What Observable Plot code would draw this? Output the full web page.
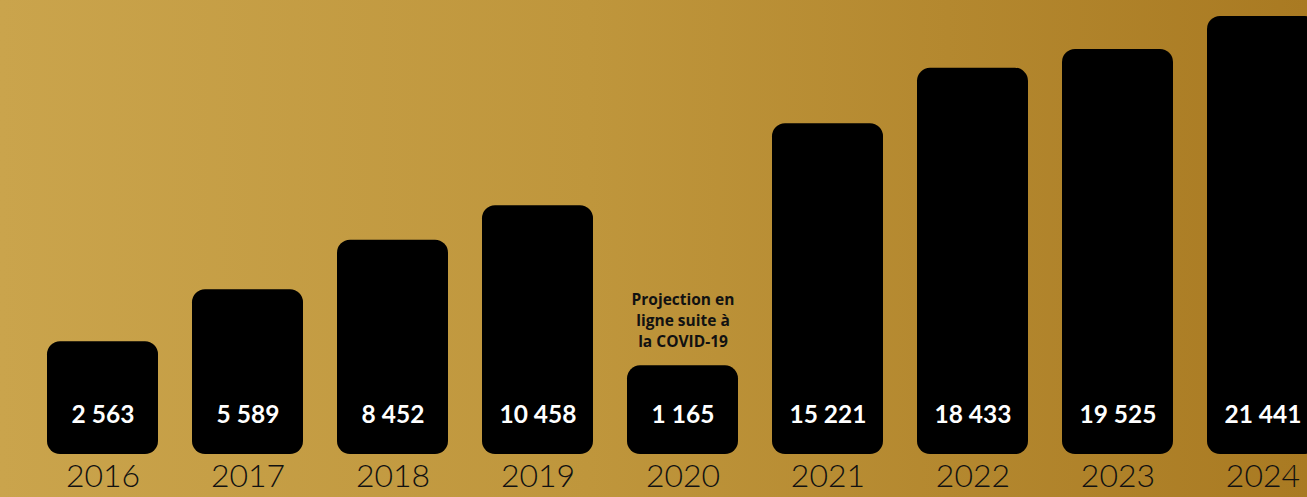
<!DOCTYPE html>
<html>
<head>
<meta charset="utf-8">
<script src="https://cdn.jsdelivr.net/npm/d3@7"></script>
<script src="https://cdn.jsdelivr.net/npm/@observablehq/plot@0.6"></script>
<style>
  html, body { margin: 0; padding: 0; background: #b88f36; overflow: hidden; }
  svg { display: block; }
</style>
</head>
<body>
<div id="chart"></div>
<script>
const years = ["2016", "2017", "2018", "2019", "2020", "2021", "2022", "2023", "2024"];
const values = [2563, 5589, 8452, 10458, 1165, 15221, 18433, 19525, 21441];
const valueLabels = ["2 563", "5 589", "8 452", "10 458", "1 165", "15 221", "18 433", "19 525", "21 441"];
const noteYear = "2020";
const noteText = "Projection en\nligne suite à\nla COVID-19";
const yFloor = -3980;

const data = years.map((year, i) => ({year, value: values[i], label: valueLabels[i]}));
const note = data.filter(d => d.year === noteYear).map(d => ({...d, text: noteText}));

const chart = Plot.plot({
  width: 1307,
  height: 497,
  marginTop: 16,
  marginBottom: 43,
  marginLeft: 0,
  marginRight: 0,
  style: {
    background: "linear-gradient(90deg, #caa44c 0%, #bf963c 45%, #a97a22 100%)",
    fontFamily: "Lato, 'Open Sans', sans-serif",
    overflow: "hidden"
  },
  x: {type: "band", domain: years, padding: 0.2345, range: [13, 1352], round: false},
  y: {domain: [yFloor, d3.max(values)], axis: null},
  marks: [
    Plot.barY(data, {x: "year", y1: () => yFloor, y2: "value", fill: "black", rx: 13}),
    Plot.text(data, {x: "year", y: () => yFloor, dy: -39, text: "label", fill: "white",
      fontSize: 24.5, fontWeight: "bold"}),
    Plot.text(note, {x: "year", y: "value", dy: -19, text: "text", lineAnchor: "bottom",
      lineHeight: 1.36, fill: "#111", fontSize: 15.5, fontWeight: "bold",
      fontFamily: "'Open Sans', Lato, sans-serif"}),
    Plot.axisX({tickSize: 0, tickPadding: 10, fontSize: 32, fill: "#111", fontWeight: 300, label: null})
  ]
});
document.getElementById("chart").appendChild(chart);
</script>
</body>
</html>
